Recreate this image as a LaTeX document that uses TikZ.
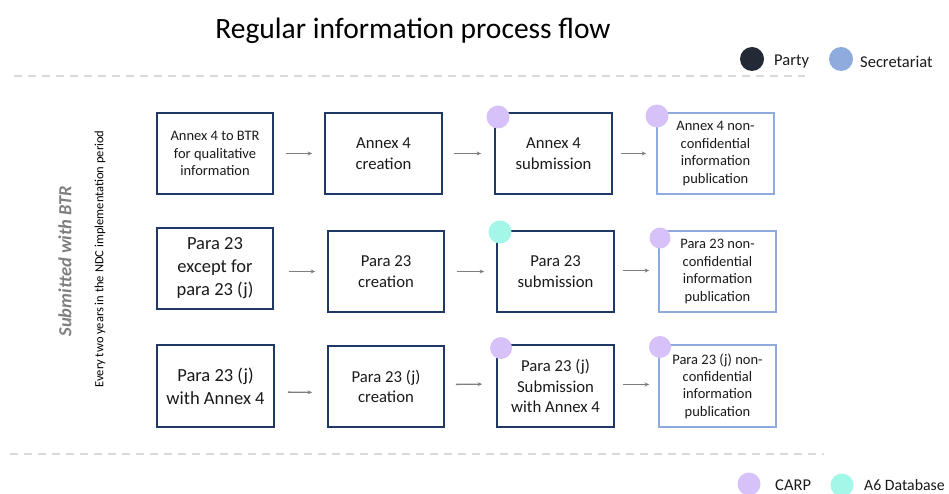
\documentclass[tikz,border=0pt]{standalone}
\usepackage{fontspec}
\setmainfont{Carlito}
\usetikzlibrary{arrows.meta}

\definecolor{navy}{HTML}{203864}
\definecolor{secblue}{HTML}{8FAADC}
\definecolor{partyink}{HTML}{222A35}
\definecolor{carp}{HTML}{D6C2F8}
\definecolor{aqua}{HTML}{A2F7E9}
\definecolor{arrowgray}{HTML}{7F7F7F}
\definecolor{rulegray}{HTML}{D9D9D9}
\definecolor{sidegray}{HTML}{7F7F7F}
\definecolor{ink}{HTML}{1A1A1A}

\tikzset{
  box/.style={rectangle, inner sep=0pt, align=center, text=ink,
    minimum width=117pt, minimum height=81pt},
  partybox/.style={box, draw=navy, line width=1.8pt},
  secbox/.style={box, draw=secblue, line width=1.6pt},
  flow/.style={draw=arrowgray, line width=1.3pt,
    -{Stealth[length=4.5pt,width=4pt]}},
  dot/.style={circle, inner sep=0pt, minimum size=23pt},
  carpdot/.style={dot, fill=carp},
  dbdot/.style={dot, fill=aqua},
  separator/.style={draw=rulegray, line width=1.5pt, dash pattern=on 8pt off 6pt},
  small/.style={font=\fontsize{14.5}{17.4}\selectfont},
  medium/.style={font=\fontsize{16.7}{20.5}\selectfont},
  large/.style={font=\fontsize{18.5}{23}\selectfont},
  legend/.style={font=\fontsize{16.5}{20}\selectfont, text=ink, anchor=west, inner sep=0pt}
}

\begin{document}
\begin{tikzpicture}[x=1pt, y=-1pt]
\useasboundingbox (0,0) rectangle (949,494);

% title
\node[font=\fontsize{29.5}{34}\selectfont, text=black] (title) at (413,31) {Regular information process flow};

% role legend, top
\node[dot, fill=partyink, minimum width=22pt, minimum height=24pt] (partydot) at (752,59) {};
\node[legend] (partylbl) at (774,62) {Party};
\node[dot, fill=secblue, minimum width=22pt, minimum height=24pt] (secdot) at (841,59) {};
\node[legend] (seclbl) at (860,62) {Secretariat};

% separators
\coordinate (topL) at (14,76);
\coordinate (topR) at (805,76);
\coordinate (botL) at (10,454);
\coordinate (botR) at (824,454);
\draw[separator] (topL) -- (topR);
\draw[separator] (botL) -- (botR);

% side labels
\node[rotate=90, font=\fontsize{18.5}{22}\selectfont\bfseries\itshape, text=sidegray] (btr) at (65,261) {Submitted with BTR};
\node[rotate=90, font=\fontsize{12.5}{15}\selectfont, text=black] (period) at (100,259) {Every two years in the NDC implementation period};

% row 1: Annex 4
\node[partybox, small, minimum width=116pt] (a1) at (215,153.5) {Annex 4 to BTR\\for qualitative\\information};
\node[partybox, medium] (a2) at (383.5,153.5) {Annex 4\\creation};
\node[partybox, medium] (a3) at (553.5,153.5) {Annex 4\\submission};
\node[secbox, small] (a4) at (715.5,153.5) {Annex 4 non-\\confidential\\information\\publication};

% row 2: para 23
\node[partybox, large, minimum width=116pt] (p1) at (215,268.5) {Para 23\\except for\\para 23 (j)};
\node[partybox, medium, minimum width=116pt] (p2) at (386,271.5) {Para 23\\creation};
\node[partybox, medium] (p3) at (555.5,271.5) {Para 23\\submission};
\node[secbox, small] (p4) at (717.5,271.5) {Para 23 non-\\confidential\\information\\publication};

% row 3: para 23 (j)
\node[partybox, large, minimum height=82pt] (j1) at (215.5,386) {Para 23 (j)\\with Annex 4};
\node[partybox, medium, minimum width=116pt] (j2) at (386,386.5) {Para 23 (j)\\creation};
\node[partybox, medium, minimum height=82pt] (j3) at (555.5,386) {Para 23 (j)\\Submission\\with Annex 4};
\node[secbox, small, minimum height=82pt] (j4) at (717.5,386) {Para 23 (j) non-\\confidential\\information\\publication};

% system markers on the boxes
\node[carpdot] (a3m) at (498,117) {};
\node[carpdot] (a4m) at (657,116) {};
\node[dbdot] (p3m) at (500,232) {};
\node[carpdot, minimum size=21pt] (p4m) at (660,238) {};
\node[carpdot, minimum size=22pt] (j3m) at (501,348) {};
\node[carpdot, minimum size=22pt] (j4m) at (660,347) {};

% flow arrows
\draw[flow, shorten <=12pt, shorten >=12pt] (a1.east) -- (a2.west);
\draw[flow, shorten <=11pt, shorten >=13pt] (a2.east) -- (a3.west);
\draw[flow, shorten <=8pt, shorten >=10pt] (a3.east) -- (a4.west);

\draw[flow, shorten <=15pt, shorten >=12pt] (p1.east |- p2.west) -- (p2.west);
\draw[flow, shorten <=12pt, shorten >=12pt] (p2.east) -- (p3.west);
\draw[flow, shorten <=8pt, shorten >=9pt] ([yshift=1pt]p3.east) -- ([yshift=1pt]p4.west);

\draw[flow, shorten <=13pt, shorten >=15pt] ([yshift=-6pt]j1.east) -- ([yshift=-6pt]j2.west);
\draw[flow, shorten <=11pt, shorten >=14pt] ([yshift=2pt]j2.east) -- ([yshift=2pt]j3.west);
\draw[flow, shorten <=8pt, shorten >=9pt] ([yshift=1.5pt]j3.east) -- ([yshift=1.5pt]j4.west);

% system legend, bottom
\node[carpdot] (carpkey) at (749,484) {};
\node[legend] (carplbl) at (775,485) {CARP};
\node[dbdot] (dbkey) at (842,485) {};
\node[legend, font=\fontsize{15.8}{19}\selectfont] (dblbl) at (864,485) {A6 Database};
\end{tikzpicture}
\end{document}
